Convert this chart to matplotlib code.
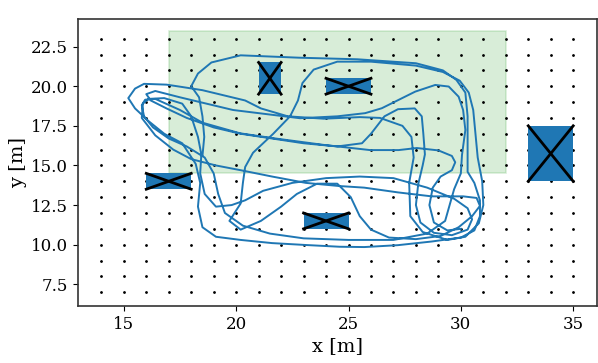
import numpy as np
import matplotlib
matplotlib.use("Agg")
import matplotlib.pyplot as plt
from matplotlib.patches import Rectangle

plt.rcParams['font.family'] = ['DejaVu Serif']

# grid of reference points
grid_x = np.arange(14, 36, 1)
grid_y = np.arange(7, 24, 1)

# region of interest (green): x0, y0, width, height
roi = (17, 14.5, 15, 9)

# obstacles: x0, y0, width, height
obs_x0 = [33, 21, 24, 16, 23]
obs_y0 = [14, 19.5, 19.5, 13.5, 11]
obs_w = [2, 1, 2, 2, 2]
obs_h = [3.5, 2, 1, 1, 1]

# trajectory (x, y) in metres
traj = [
    (18.5, 15.6), (18.58, 16.8), (18.5, 18.1), (18.35, 19.3), (18.0, 20.0), (18.3, 20.8), (18.9, 21.5),
    (20.2, 21.95), (22.8, 21.8), (25.4, 21.7), (28.0, 21.45), (29.2, 21.0), (29.8, 20.4), (30.2, 19.6),
    (30.3, 18.1), (30.3, 15.7), (30.3, 14.6), (30.6, 13.9), (30.85, 12.8), (30.85, 11.8), (30.6, 10.9),
    (30.0, 10.45), (28.7, 10.2), (27.2, 9.97), (25.7, 9.85), (24.6, 9.87), (23.1, 9.98), (21.6, 10.1),
    (20.2, 10.3), (19.1, 10.5), (18.5, 11.1), (18.3, 12.4), (18.4, 13.9), (18.2, 15.1), (17.6, 16.4),
    (16.8, 17.0), (16.1, 17.8), (15.5, 18.6), (15.2, 19.25), (15.5, 19.85), (15.9, 20.15), (16.9, 20.1),
    (17.6, 19.95), (18.5, 19.75), (20.4, 19.1), (21.1, 18.6), (22.3, 18.1), (23.9, 17.95), (25.5, 18.05),
    (26.4, 18.0), (27.4, 17.5), (27.8, 16.8), (27.9, 15.5), (27.7, 13.9), (27.75, 11.8), (28.3, 10.8),
    (29.4, 10.3), (30.2, 10.5), (30.8, 11.35), (31.0, 12.5), (30.95, 14.0), (30.75, 15.5), (30.65, 17.0),
    (30.55, 18.5), (30.35, 19.6), (29.95, 20.35), (29.2, 20.9), (28.0, 21.3), (26.0, 21.55), (24.5, 21.55),
    (23.45, 21.05), (22.95, 20.2), (22.75, 19.1), (22.4, 18.1), (21.65, 17.0), (20.75, 15.8), (20.4, 14.9),
    (20.3, 13.9), (20.2, 12.6), (19.7, 11.5), (20.2, 10.95), (21.1, 11.5), (22.0, 12.4), (22.7, 13.2),
    (23.6, 13.85), (24.5, 13.85), (25.1, 13.0), (25.5, 11.8), (26.0, 10.95), (26.8, 10.45), (28.0, 10.35),
    (29.1, 10.55), (29.9, 11.1), (30.5, 11.8), (30.85, 12.45), (30.7, 12.95), (30.1, 13.05),
    (28.7, 13.05), (27.2, 13.3), (25.7, 13.6), (24.6, 13.7), (23.1, 13.9), (21.6, 14.3),
    (20.2, 14.7), (19.1, 15.0), (18.0, 15.4), (17.2, 16.0), (16.4, 16.9), (15.8, 18.0), (15.85, 18.9),
    (16.1, 19.2), (16.8, 19.25), (17.6, 18.9), (18.0, 18.1), (18.3, 16.8), (18.45, 15.7), (18.4, 14.5),
    (18.6, 13.2), (19.1, 12.4), (19.8, 12.5), (20.4, 12.8),
    (21.2, 13.4), (22.5, 13.9), (24.0, 14.2), (25.5, 14.3), (27.0, 14.2), (28.5, 13.6), (29.7, 12.9),
    (30.3, 12.3), (30.5, 11.6), (30.3, 10.95), (29.6, 10.6), (28.8, 10.75), (28.2, 11.4), (28.0, 12.5),
    (28.1, 13.8), (28.3, 15.0), (28.4, 15.7), (28.33, 17.0), (28.26, 18.1), (27.95, 18.6), (27.2, 18.55),
    (26.6, 18.1), (26.0, 17.0), (25.6, 16.4), (24.5, 16.2), (23.0, 16.4), (21.6, 16.7), (20.2, 17.0),
    (19.0, 17.4), (17.8, 18.0), (16.9, 18.6), (16.2, 19.1), (16.0, 19.5), (16.4, 19.7), (17.5, 19.3),
    (19.86, 18.5), (22.84, 17.98), (24.5, 18.1), (25.74, 18.3), (26.48, 18.61), (27.23, 19.14),
    (27.97, 19.66), (28.86, 20.08), (29.46, 19.98), (29.9, 19.34), (30.1, 18.5), (30.2, 17.24),
    (30.05, 15.66), (30.0, 14.5), (29.7, 13.5), (29.3, 11.5), (28.5, 10.7), (27.0, 10.3), (25.0, 10.3),
    (23.0, 10.4), (21.5, 10.7), (20.3, 11.2), (19.5, 12.0), (19.2, 13.2), (19.0, 14.5), (18.6, 15.5),
    (17.8, 16.2), (17.0, 16.7), (16.3, 17.4), (15.9, 18.1), (15.8, 18.8), (15.95, 19.15), (16.4, 19.2),
    (17.5, 18.5), (18.5, 17.7), (20.17, 17.03), (21.65, 16.72), (23.88, 16.3), (25.96, 15.97),
    (27.23, 15.97), (28.04, 16.1), (29.0, 15.95), (29.6, 15.6), (29.75, 15.2), (29.6, 14.7),
    (29.1, 14.3), (28.75, 13.6), (28.6, 12.5), (28.8, 11.4), (29.4, 10.9), (30.0, 11.0),
]
traj_x = [p[0] for p in traj]
traj_y = [p[1] for p in traj]

fig = plt.figure(figsize=(5.98, 3.63), dpi=100)
ax = fig.add_axes([0.130, 0.157, 0.868, 0.791])

ax.add_patch(Rectangle((roi[0], roi[1]), roi[2], roi[3], facecolor='tab:green',
                       edgecolor='tab:green', alpha=0.18, lw=1.2, zorder=1))

gx, gy = np.meshgrid(grid_x, grid_y)
ax.plot(gx.ravel(), gy.ravel(), 'k.', markersize=2, zorder=2)

ax.plot(traj_x, traj_y, color='#1f77b4', lw=1.4, zorder=3, solid_joinstyle='round')

for x0, y0, w, h in zip(obs_x0, obs_y0, obs_w, obs_h):
    ax.add_patch(Rectangle((x0, y0), w, h, facecolor='#1f77b4', edgecolor='none', zorder=4))
    ax.plot([x0, x0 + w], [y0, y0 + h], color='k', lw=2, zorder=5)
    ax.plot([x0, x0 + w], [y0 + h, y0], color='k', lw=2, zorder=5)

ax.set_xlim(12.95, 36.05)
ax.set_ylim(6.13, 24.25)
ax.set_xticks([15, 20, 25, 30, 35])
ax.set_yticks([7.5, 10.0, 12.5, 15.0, 17.5, 20.0, 22.5])
ax.tick_params(labelsize=12)
ax.set_xlabel('x [m]', fontsize=14, labelpad=3)
ax.set_ylabel('y [m]', fontsize=14, labelpad=3)
for s in ax.spines.values():
    s.set_color('#333333')
    s.set_linewidth(1.2)

fig.savefig('out.png', dpi=100)
